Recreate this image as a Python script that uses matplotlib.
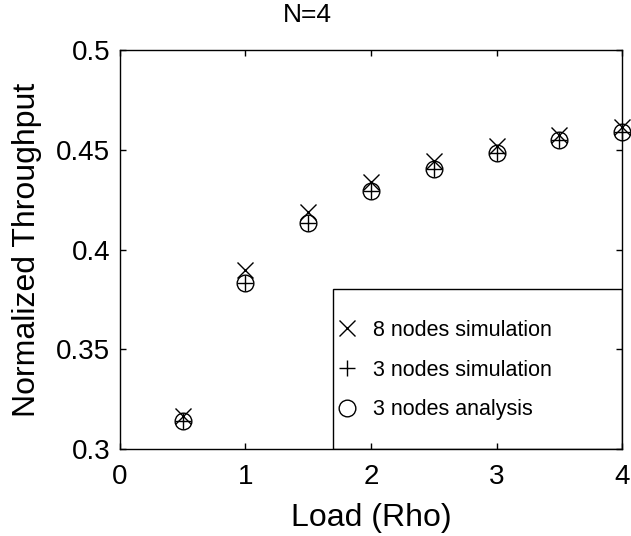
import numpy as np
import matplotlib
matplotlib.use('Agg')
import matplotlib.pyplot as plt
from matplotlib.patches import Rectangle

plt.rcParams['font.family'] = ['Liberation Sans', 'DejaVu Sans']

load = [0.5, 1.0, 1.5, 2.0, 2.5, 3.0, 3.5, 4.0]
sim8 = [0.3165, 0.3897, 0.4188, 0.4338, 0.4444, 0.4519, 0.4574, 0.4614]
sim3 = [0.3140, 0.3830, 0.4133, 0.4293, 0.4404, 0.4484, 0.4549, 0.4589]
ana3 = [0.3140, 0.3830, 0.4133, 0.4293, 0.4404, 0.4484, 0.4549, 0.4589]

yticks = [0.3, 0.35, 0.4, 0.45, 0.5]
ytick_labels = ['0.3', '0.35', '0.4', '0.45', '0.5']
xticks = [0, 1, 2, 3, 4]

fig = plt.figure(figsize=(6.31, 5.36), dpi=100)
ax = fig.add_axes([0.190, 0.162, 0.796, 0.745])

ax.plot(load, sim8, 'x', color='k', ms=12, mew=1, label='8 nodes simulation', clip_on=False)
ax.plot(load, sim3, '+', color='k', ms=12, mew=1, label='3 nodes simulation', clip_on=False)
ax.plot(load, ana3, 'o', color='k', mfc='none', ms=12, mew=1, label='3 nodes analysis', clip_on=False)

ax.set_xlim(0, 4)
ax.set_ylim(0.3, 0.5)
ax.set_xticks(xticks)
ax.set_xticklabels([str(t) for t in xticks])
ax.set_yticks(yticks)
ax.set_yticklabels(ytick_labels)
ax.tick_params(direction='in', length=4, width=1, top=True, right=True, labelsize=20)
ax.tick_params(axis='x', pad=11)
ax.tick_params(axis='y', pad=7)
for s in ax.spines.values():
    s.set_linewidth(1)

ax.set_xlabel('Load (Rho)', fontsize=23, labelpad=9)
ax.set_ylabel('Normalized Throughput', fontsize=23, labelpad=10)
fig.text(0.487, 0.972, 'N=4', fontsize=19, ha='center', va='center')

# legend box
ax.add_patch(Rectangle((0.424, 0.0), 0.576, 0.401, transform=ax.transAxes,
                       fill=False, ec='k', lw=1, zorder=5))
ax.legend(loc='center left', bbox_to_anchor=(0.424, 0.198), frameon=False,
          fontsize=15.5, numpoints=1, handlelength=1.0, handletextpad=0.7,
          borderpad=0.15, labelspacing=0.87, borderaxespad=0)

plt.savefig('out.png', dpi=100)
